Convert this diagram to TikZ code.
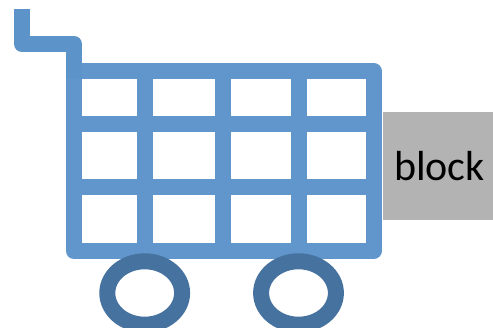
\documentclass[tikz,border=0pt]{standalone}
\usepackage{fontspec}
\setmainfont{Carlito}
\definecolor{cartblue}{HTML}{6096CC}
\definecolor{handleblue}{HTML}{5C93C9}
\definecolor{wheelblue}{HTML}{4672A0}
\definecolor{blockgray}{HTML}{B3B3B3}
\tikzstyle{frame} = [draw=cartblue, line width=16pt, line join=round]
\tikzstyle{handle} = [draw=handleblue, line width=16pt, line join=round]
\tikzstyle{bar} = [draw=cartblue, line width=16pt]
\tikzstyle{wheel} = [draw=wheelblue, line width=16pt, x radius=37.4pt, y radius=31.7pt]
\tikzstyle{block} = [rectangle, fill=blockgray, minimum width=110pt, minimum height=108pt, inner sep=0pt, font=\fontsize{42pt}{48pt}\selectfont]

\begin{document}
\begin{tikzpicture}[x=1pt, y=-1pt]
	\clip (0,0) rectangle (493,328);
	% bars of the basket
	\foreach \xpos in {145,223,299}
		\path [bar] (\xpos,71) -- (\xpos,251);
	\foreach \ypos in {124,187}
		\path [bar] (74,\ypos) -- (373.5,\ypos);
	\path [frame] (74,71) -- (373.5,71) -- (373.5,251) -- (74,251) -- cycle;
	\path [handle] (22,9) -- (22,44) -- (74,44) -- (74,79);
	% wheels
	\path [wheel] (144.7,293) ellipse [];
	\path [wheel] (298.5,293) ellipse [];
	\node [block] (load) at (438,165.7) {\kern3pt block};
\end{tikzpicture}
\end{document}
